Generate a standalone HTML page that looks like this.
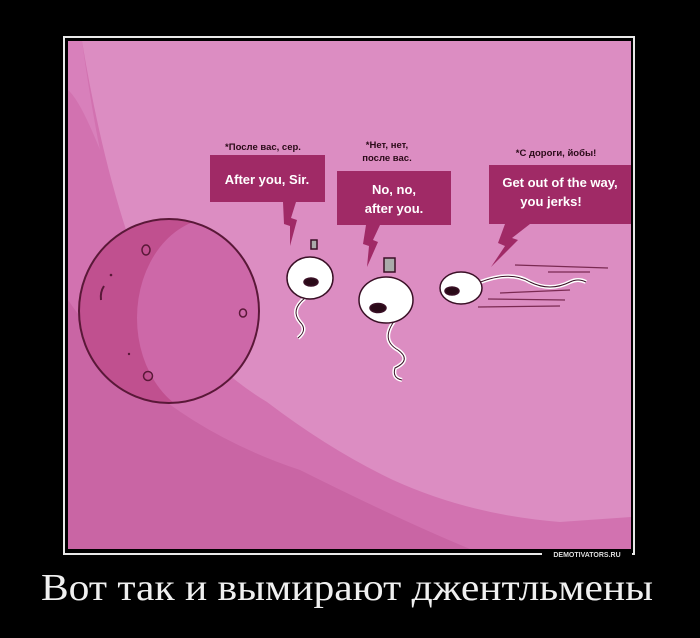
<!DOCTYPE html>
<html><head><meta charset="utf-8"><style>
html,body{margin:0;padding:0;background:#000;}
body{width:700px;height:638px;overflow:hidden;position:relative;}
</style></head><body>
<svg width="700" height="638" viewBox="0 0 700 638" xmlns="http://www.w3.org/2000/svg" style="position:absolute;left:0;top:0">
<rect width="700" height="638" fill="#000"/>
<rect x="64" y="37" width="570" height="517" fill="none" stroke="#e8e8e8" stroke-width="2"/>
<defs><clipPath id="img"><rect x="68" y="41" width="563" height="508"/></clipPath>
<clipPath id="egg"><ellipse cx="169" cy="311" rx="90" ry="92"/></clipPath></defs>
<g clip-path="url(#img)">
<rect x="68" y="41" width="563" height="508" fill="#d272b0"/>
<path d="M68 549 L68 300 Q150 420 300 470 Q400 520 470 549 Z" fill="#c965a4"/>
<path d="M82 41 Q100 150 127 233 Q180 350 267 402 Q330 450 393 480 Q470 515 560 522 L631 517 L631 41 Z" fill="#dc8dc2"/>
<path d="M68 41 L82 41 Q90 100 100 150 Q80 100 68 90 Z" fill="#d880bb"/>
</g>
<!-- egg -->
<ellipse cx="169" cy="311" rx="90" ry="92" fill="#c0508f"/>
<g clip-path="url(#egg)"><ellipse cx="215" cy="318" rx="78" ry="100" fill="#cd68a8"/></g>
<ellipse cx="169" cy="311" rx="90" ry="92" fill="none" stroke="#5a1838" stroke-width="2"/>
<ellipse cx="146" cy="250" rx="4" ry="5" fill="none" stroke="#5a1838" stroke-width="1.5"/>
<ellipse cx="243" cy="313" rx="3.5" ry="4" fill="none" stroke="#5a1838" stroke-width="1.5"/>
<ellipse cx="148" cy="376" rx="4.5" ry="4.5" fill="none" stroke="#5a1838" stroke-width="1.5"/>
<path d="M104 286 Q100 292 101 300" fill="none" stroke="#5a1838" stroke-width="2"/>
<circle cx="111" cy="275" r="1.3" fill="#5a1838"/><circle cx="129" cy="354" r="1.2" fill="#5a1838"/>
<!-- bubbles -->
<g fill="#a02a66">
<rect x="210" y="155" width="115" height="47"/>
<path d="M283 202 L296 202 L291 218 L297 220 L290 246 L290 226 L284 224 Z"/>
<rect x="337" y="171" width="114" height="54"/>
<path d="M366 225 L380 225 L373 240 L378 242 L367 267 L369 246 L363 244 Z"/>
<rect x="489" y="165" width="142" height="59"/>
<path d="M505 224 L530 224 L512 238 L518 240 L491 267 L505 246 L498 243 Z"/>
</g>
<g font-family="Liberation Sans, sans-serif" font-weight="bold" fill="#fff" font-size="13" text-anchor="middle">
<text x="267" y="184">After you, Sir.</text>
<text x="394" y="194">No, no,</text>
<text x="394" y="213">after you.</text>
<text x="560" y="187">Get out of the way,</text>
<text x="551" y="206">you jerks!</text>
</g>
<g font-family="Liberation Sans, sans-serif" font-weight="bold" fill="#2a0a18" font-size="9.5" text-anchor="middle">
<text x="263" y="150">*После вас, сер.</text>
<text x="387" y="148">*Нет, нет,</text>
<text x="387" y="161">после вас.</text>
<text x="556" y="156">*С дороги, йобы!</text>
</g>
<!-- sperm 1 -->
<g stroke="#3a1026" stroke-width="1.5" fill="#fff">
<path d="M305 298 Q290 310 300 322 Q308 330 298 338" fill="none" stroke="#fff" stroke-width="4"/>
<path d="M305 298 Q290 310 300 322 Q308 330 298 338" fill="none" stroke-width="1"/>
<ellipse cx="310" cy="278" rx="23" ry="21"/>
<rect x="311" y="240" width="6" height="9" fill="#aaa"/>
<ellipse cx="311" cy="282" rx="7" ry="4" fill="#2a0a18"/>
<!-- sperm 2 -->
<path d="M395 320 Q380 340 398 350 Q412 360 395 368 Q392 378 402 380" fill="none" stroke="#fff" stroke-width="4"/>
<path d="M395 320 Q380 340 398 350 Q412 360 395 368 Q392 378 402 380" fill="none" stroke-width="1"/>
<ellipse cx="386" cy="300" rx="27" ry="23"/>
<rect x="384" y="258" width="11" height="14" fill="#aaa"/>
<ellipse cx="378" cy="308" rx="8" ry="4.5" fill="#2a0a18"/>
<!-- sperm 3 -->
<path d="M478 283 Q510 270 530 282 Q550 292 570 282 Q578 278 586 282" fill="none" stroke="#fff" stroke-width="4"/>
<path d="M478 283 Q510 270 530 282 Q550 292 570 282 Q578 278 586 282" fill="none" stroke-width="1"/>
<ellipse cx="461" cy="288" rx="21" ry="16"/>
<ellipse cx="452" cy="291" rx="7" ry="4" fill="#2a0a18"/>
</g>
<g stroke="#7a2a52" stroke-width="1.3">
<line x1="515" y1="265" x2="608" y2="268"/><line x1="548" y1="272" x2="590" y2="272"/>
<line x1="500" y1="293" x2="570" y2="290"/><line x1="488" y1="299" x2="565" y2="300"/>
<line x1="478" y1="307" x2="560" y2="306"/>
</g>
<rect x="542" y="549" width="90" height="9" fill="#000"/>
<text x="587" y="557" font-family="Liberation Sans, sans-serif" font-weight="bold" font-size="7" fill="#ddd" text-anchor="middle">DEMOTIVATORS.RU</text>
<text x="347" y="600" font-family="Liberation Serif, serif" font-size="38" fill="#f0f0f0" text-anchor="middle" textLength="612" lengthAdjust="spacingAndGlyphs">Вот так и вымирают джентльмены</text>
</svg>
</body></html>
